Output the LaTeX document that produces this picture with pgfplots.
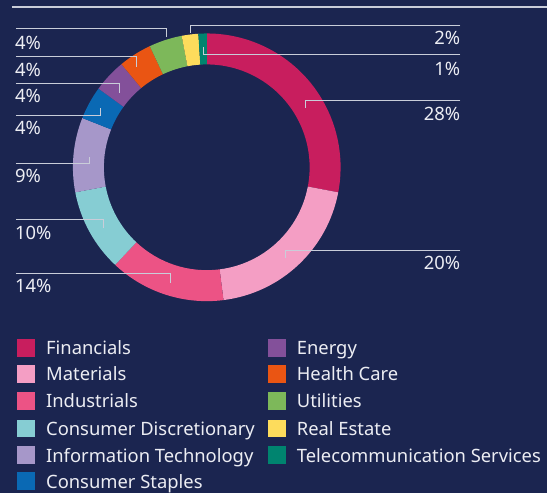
\documentclass[border=0pt]{standalone}
\usepackage{fontspec}
\setmainfont{Noto Sans}
\usepackage{pgfplots}
\usepackage{pgfplotstable}
\pgfplotsset{compat=1.18}
\definecolor{bg}{HTML}{1B2550}
\definecolor{cFin}{HTML}{C81E5E}
\definecolor{cMat}{HTML}{F49EC4}
\definecolor{cInd}{HTML}{EC5385}
\definecolor{cCD}{HTML}{86CDD3}
\definecolor{cIT}{HTML}{A697C9}
\definecolor{cCS}{HTML}{0A69B4}
\definecolor{cEn}{HTML}{83509A}
\definecolor{cHC}{HTML}{EA5513}
\definecolor{cUt}{HTML}{7DB85A}
\definecolor{cRE}{HTML}{FDDC5C}
\definecolor{cTel}{HTML}{00846F}
\definecolor{txt}{HTML}{ECEDF3}
\definecolor{ln}{HTML}{C9CDD9}
\pgfplotstableread{
name value color
Financials 28 cFin
Materials 20 cMat
Industrials 14 cInd
ConsumerDiscretionary 10 cCD
InformationTechnology 9 cIT
ConsumerStaples 4 cCS
Energy 4 cEn
HealthCare 4 cHC
Utilities 4 cUt
RealEstate 2 cRE
Telecommunication 1 cTel
}\sectors
\begin{document}
\begin{tikzpicture}
\begin{axis}[
  width=548bp, height=494bp, scale only axis,
  xmin=0, xmax=548, ymin=0, ymax=494,
  hide axis, clip=false,
]
\addplot[draw=none] coordinates {(0,0) (548,494)};
\pgfplotsextra{
  \fill[bg] (axis cs:0,0) rectangle (axis cs:548,494);
  \gdef\cum{0}
  \foreach \i in {0,...,10}{
    \pgfplotstablegetelem{\i}{value}\of\sectors \let\sv\pgfplotsretval
    \pgfplotstablegetelem{\i}{color}\of\sectors \let\sc\pgfplotsretval
    \pgfmathsetmacro\aone{90-3.6*\cum}
    \pgfmathsetmacro\atwo{90-3.6*(\cum+\sv)}
    \fill[\sc] ([shift={(\aone:134bp)}]axis cs:207,326.5) arc[start angle=\aone, end angle=\atwo, radius=134bp]
      -- ([shift={(\atwo:103bp)}]axis cs:207,326.5) arc[start angle=\atwo, end angle=\aone, radius=103bp] -- cycle;
    \pgfmathsetmacro\newcum{\cum+\sv}
    \xdef\cum{\newcum}
  }
  % top rule
  \draw[ln, line width=1.3bp] (axis cs:12,487) -- (axis cs:548,487);
  % left leaders
  \begin{scope}[ln, line width=0.9bp]
  \draw (axis cs:16,466) -- (axis cs:167,466) -- (axis cs:167,457);
  \draw (axis cs:16,437) -- (axis cs:137,437) -- (axis cs:137,427);
  \draw (axis cs:16,410) -- (axis cs:120,410) -- (axis cs:120,401);
  \draw (axis cs:16,378) -- (axis cs:101,378) -- (axis cs:101,386);
  \draw (axis cs:16,330) -- (axis cs:90,330) -- (axis cs:90,337);
  \draw (axis cs:16,274) -- (axis cs:104,274) -- (axis cs:104,266);
  \draw (axis cs:16,220) -- (axis cs:171,220) -- (axis cs:171,211);
  % right leaders
  \draw (axis cs:461,469) -- (axis cs:191,469) -- (axis cs:191,461);
  \draw (axis cs:461,439) -- (axis cs:204,439) -- (axis cs:204,447);
  \draw (axis cs:461,393) -- (axis cs:306,393) -- (axis cs:306,386);
  \draw (axis cs:461,243) -- (axis cs:286,243) -- (axis cs:286,236);
  \end{scope}
  \begin{scope}[every node/.style={font=\fontsize{18.4bp}{20bp}\selectfont, text=txt, inner sep=0pt}]
  \node[anchor=base west] at (axis cs:15,444) {4\%};
  \node[anchor=base west] at (axis cs:15,417) {4\%};
  \node[anchor=base west] at (axis cs:15,391) {4\%};
  \node[anchor=base west] at (axis cs:15,359) {4\%};
  \node[anchor=base west] at (axis cs:15,311) {9\%};
  \node[anchor=base west] at (axis cs:15,254) {10\%};
  \node[anchor=base west] at (axis cs:15,201) {14\%};
  \node[anchor=base east] at (axis cs:461,449) {2\%};
  \node[anchor=base east] at (axis cs:461,418) {1\%};
  \node[anchor=base east] at (axis cs:461,373.5) {28\%};
  \node[anchor=base east] at (axis cs:461,224) {20\%};
  % legend
  \fill[cFin] (axis cs:17,137) rectangle (axis cs:35,155);
  \fill[cMat] (axis cs:17,111) rectangle (axis cs:35,129);
  \fill[cInd] (axis cs:17,84) rectangle (axis cs:35,102);
  \fill[cCD] (axis cs:17,56) rectangle (axis cs:35,74);
  \fill[cIT] (axis cs:17,29) rectangle (axis cs:35,47);
  \fill[cCS] (axis cs:17,3) rectangle (axis cs:35,21);
  \fill[cEn] (axis cs:268,137) rectangle (axis cs:286,155);
  \fill[cHC] (axis cs:268,111) rectangle (axis cs:286,129);
  \fill[cUt] (axis cs:268,84) rectangle (axis cs:286,102);
  \fill[cRE] (axis cs:268,56) rectangle (axis cs:286,74);
  \fill[cTel] (axis cs:268,29) rectangle (axis cs:286,47);
  \node[anchor=base west] at (axis cs:46,139) {Financials};
  \node[anchor=base west] at (axis cs:46,113) {Materials};
  \node[anchor=base west] at (axis cs:46,86) {Industrials};
  \node[anchor=base west] at (axis cs:46,58) {Consumer Discretionary};
  \node[anchor=base west] at (axis cs:46,31) {Information Technology};
  \node[anchor=base west] at (axis cs:46,5) {Consumer Staples};
  \node[anchor=base west] at (axis cs:297,139) {Energy};
  \node[anchor=base west] at (axis cs:297,113) {Health Care};
  \node[anchor=base west] at (axis cs:297,86) {Utilities};
  \node[anchor=base west] at (axis cs:297,58) {Real Estate};
  \node[anchor=base west] at (axis cs:297,31) {Telecommunication Services};
  \end{scope}
}
\end{axis}
\end{tikzpicture}
\end{document}
